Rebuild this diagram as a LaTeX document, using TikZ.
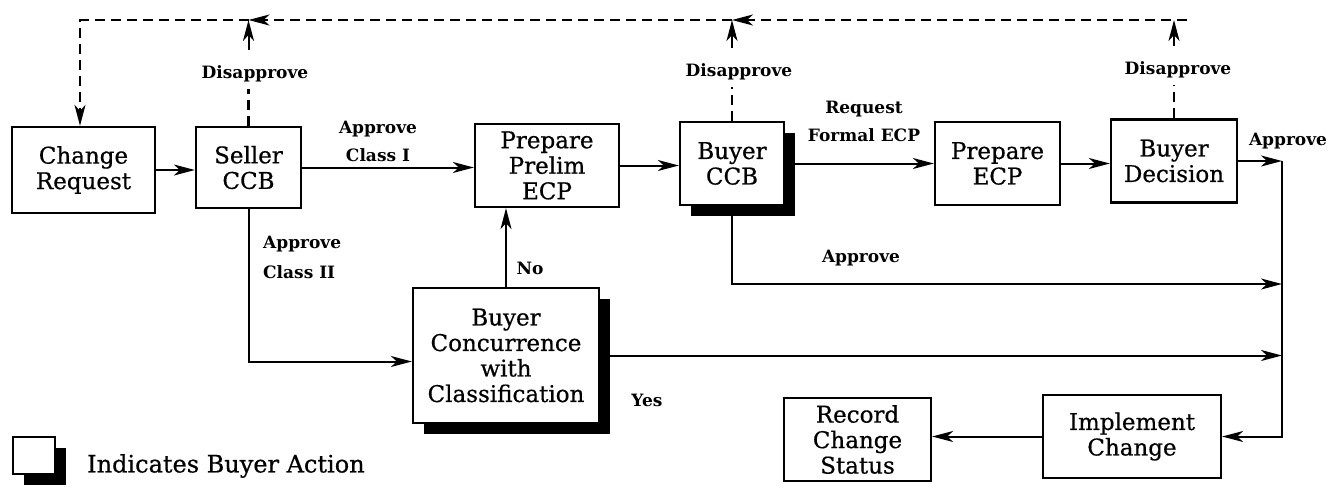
\documentclass[tikz,border=0pt]{standalone}
\usepackage{fontspec}
\setmainfont{DejaVu Serif}
\newfontfamily\boxface{DejaVu Serif}[FakeBold=0.6]
\usetikzlibrary{arrows.meta,shadows}

\newcommand\boxfont{\boxface\fontsize{23}{25.5}\selectfont}
\newcommand\lblfont{\bfseries\fontsize{17}{28}\selectfont}

\tikzset{
  box/.style={draw, line width=2.3pt, fill=white, inner sep=0pt,
              align=center, font=\boxfont},
  buyer/.style={box, drop shadow={shadow xshift=11pt, shadow yshift=-11pt,
              opacity=1, fill=black}},
  lbl/.style={font=\lblfont, inner sep=0pt},
  arrowhd/.style={-{Stealth[length=21pt,width=11pt,inset=6pt]}},
  flow/.style={line width=2pt, arrowhd},
  back/.style={line width=2.2pt, dash pattern=on 10pt off 6pt},
}

\begin{document}
\begin{tikzpicture}[x=1pt,y=-1pt]
\useasboundingbox (0,0) rectangle (1329,485);

% process boxes, top row
\node[box, minimum width=143pt, minimum height=86pt] (cr)   at (83.5,170)   {Change\\Request};
\node[box, minimum width=105pt, minimum height=81pt] (sccb) at (248.5,167.5) {Seller\\CCB};
\node[box, minimum width=144pt, minimum height=83pt] (ppe)  at (547,165.5)  {Prepare\\Prelim\\ECP};
\node[buyer, minimum width=104pt, minimum height=83pt] (bccb) at (732,163.5) {Buyer\\CCB};
\node[box, minimum width=125pt, minimum height=83pt] (pecp) at (997.5,163.5) {Prepare\\ECP};
\node[box, minimum width=126pt, minimum height=83pt] (bd)   at (1174,161)   {Buyer\\Decision};

% lower boxes
\node[buyer, minimum width=186pt, minimum height=135pt] (bcc) at (506,355.5)
  {Buyer\\Concurrence\\with\\Classification};
\node[box, minimum width=178pt, minimum height=83pt] (ic)  at (1132,436.5) {Implement\\Change};
\node[box, minimum width=147pt, minimum height=83pt] (rcs) at (857.5,439.5) {Record\\Change\\Status};

% key
\node[buyer, minimum width=42pt, minimum height=37pt] (key) at (34,455.5) {};
\node[anchor=west, inner sep=0pt] (keytext) at (87,466)
  {\boxface\fontsize{24}{26}\selectfont Indicates Buyer Action};

% main flow
\coordinate (rt) at (1282,161);
\draw[flow] (cr.east) -- (cr.east -| sccb.west);
\draw[flow] (sccb.east) -- (sccb.east -| ppe.west);
\draw[flow] (ppe.east) -- (ppe.east -| bccb.west);
\draw[flow] (bccb.east) -- (bccb.east -| pecp.west);
\draw[flow] (pecp.east) -- (pecp.east -| bd.west);
\draw[flow] (bd.east) -- (rt);
\draw[flow] (rt) |- (ic.east);
\draw[flow] (ic.west) -- (ic.west -| rcs.east);

\coordinate (ap) at (1282,284);
\draw[flow] (bccb.south) |- (ap);
\draw[flow] (bcc.east) -- (bcc.east -| rt);
\draw[flow] (sccb.south) |- ([yshift=-6pt]bcc.west);
\draw[flow] (bcc.north) -- (bcc.north |- ppe.south);

% flow labels
\node[lbl, align=center] (lc1) at (378,141) {Approve\\Class I};
\node[lbl, align=left, anchor=west] (lc2) at (263,257) {Approve\\[2pt]Class II};
\node[lbl] (lno) at (530,268) {No};
\node[lbl] (lyes) at (647,400) {Yes};
\node[lbl] (lap1) at (861,258) {Approve};
\node[lbl] (lap2) at (1288,141) {Approve};
\node[lbl, align=center] (lreq) at (864,121) {Request\\Formal ECP};

% disapproval feedback
\coordinate (tl) at (80,20);
\coordinate (tr) at (1187,20);
\coordinate (j1) at (sccb.north |- tl);
\coordinate (j2) at (bccb.north |- tl);
\coordinate (j3) at (bd.north |- tl);

\node[lbl] (d1) at (255,74) {Disapprove};
\node[lbl] (d2) at (739,72) {Disapprove};
\node[lbl] (d3) at (1178,70) {Disapprove};

\draw[back, shorten >=7pt] (sccb.north) -- (sccb.north |- d1.south);
\draw[back, shorten >=7pt] (bccb.north) -- (bccb.north |- d2.south);
\draw[back, shorten >=7pt] (bd.north) -- (bd.north |- d3.south);

\draw[flow, shorten <=16pt] (j1 |- d1.north) -- (j1);
\draw[flow, shorten <=16pt] (j2 |- d2.north) -- (j2);
\draw[flow, shorten <=16pt] (j3 |- d3.north) -- (j3);

\draw[back, arrowhd] (tr) -- (j2);
\draw[back, arrowhd] (j2) -- (j1);
\draw[back, arrowhd] (j1) -- (tl) -- (cr.north -| tl);
\end{tikzpicture}
\end{document}
